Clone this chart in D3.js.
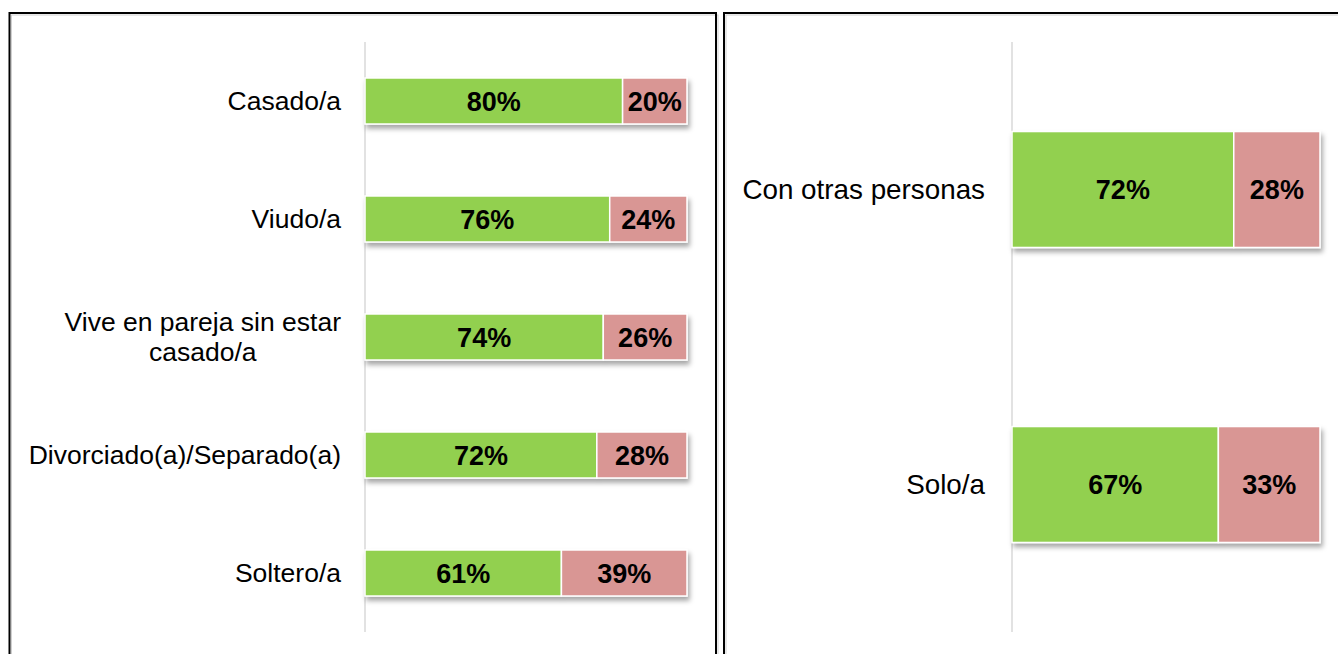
<!DOCTYPE html>
<html>
<head>
<meta charset="utf-8">
<script src="https://cdn.jsdelivr.net/npm/d3@7"></script>
<style>
  body { margin: 0; background: #fff; }
  svg { display: block; font-family: "Liberation Sans", Arial, sans-serif; }
</style>
</head>
<body>
<div id="chart"></div>
<script>
// left panel: estado civil
let leftCategories = ['Casado/a', 'Viudo/a', 'Vive en pareja sin estar casado/a', 'Divorciado(a)/Separado(a)', 'Soltero/a'];
let leftSi = [80, 76, 74, 72, 61];
let leftNo = [20, 24, 26, 28, 39];

// right panel: con quien vive
let rightCategories = ['Con otras personas', 'Solo/a'];
let rightSi = [72, 67];
let rightNo = [28, 33];

let totalWidth = 1338;
let totalHeight = 654;

let svg = d3.select('#chart')
    .append('svg')
    .attr('width', totalWidth)
    .attr('height', totalHeight);

// shadow under the bars
let defs = svg.append('defs');
let filter = defs.append('filter')
    .attr('id', 'barShadow')
    .attr('x', '-10%').attr('y', '-20%')
    .attr('width', '130%').attr('height', '160%');
filter.append('feDropShadow')
    .attr('dx', 2)
    .attr('dy', 4)
    .attr('stdDeviation', 2.5)
    .attr('flood-color', '#000')
    .attr('flood-opacity', 0.35);

// panel borders
let panels = [
    {x: 9.5, y: 13, w: 706.5},
    {x: 724, y: 13, w: 640}
];
panels.forEach(function(p) {
    svg.append('rect')
        .attr('x', p.x + 2)
        .attr('y', p.y + 2)
        .attr('width', p.w)
        .attr('height', 700)
        .attr('fill', 'none')
        .attr('stroke', '#d0d0d0')
        .attr('stroke-width', 1);
    svg.append('rect')
        .attr('x', p.x)
        .attr('y', p.y)
        .attr('width', p.w)
        .attr('height', 700)
        .attr('fill', 'none')
        .attr('stroke', '#000')
        .attr('stroke-width', 2);
});

function drawPanel(cfg) {
    let g = svg.append('g');

    let data = cfg.categories.map(function(c, i) {
        return {label: c, si: cfg.si[i], no: cfg.no[i]};
    });

    let xScale = d3.scaleLinear()
        .domain([0, 100])
        .range([cfg.x0, cfg.x1]);

    let yScale = d3.scaleBand()
        .domain(cfg.categories)
        .range([42, 632])
        .paddingInner(cfg.padding)
        .paddingOuter(cfg.padding / 2);

    // vertical axis line
    g.append('line')
        .attr('x1', xScale(0))
        .attr('x2', xScale(0))
        .attr('y1', 42)
        .attr('y2', 632)
        .attr('stroke', '#d9d9d9')
        .attr('stroke-width', 1.5);

    let rows = g.selectAll('.row')
        .data(data)
        .enter()
        .append('g')
        .attr('class', 'row');

    let bars = rows.append('g').attr('filter', 'url(#barShadow)');

    bars.append('rect')
        .attr('x', xScale(0))
        .attr('y', function(d) { return yScale(d.label); })
        .attr('width', function(d) { return xScale(d.si) - xScale(0); })
        .attr('height', yScale.bandwidth())
        .attr('fill', '#92d050')
        .attr('stroke', '#fff')
        .attr('stroke-width', 1.5);

    bars.append('rect')
        .attr('x', function(d) { return xScale(d.si); })
        .attr('y', function(d) { return yScale(d.label); })
        .attr('width', function(d) { return xScale(d.si + d.no) - xScale(d.si); })
        .attr('height', yScale.bandwidth())
        .attr('fill', '#d99694')
        .attr('stroke', '#fff')
        .attr('stroke-width', 1.5);

    // value labels
    rows.append('text')
        .attr('x', function(d) { return (xScale(0) + xScale(d.si)) / 2; })
        .attr('y', function(d) { return yScale(d.label) + yScale.bandwidth() / 2 + 9.7; })
        .attr('text-anchor', 'middle')
        .style('font-size', '27px')
        .style('font-weight', 'bold')
        .style('fill', '#000')
        .text(function(d) { return d.si + '%'; });

    rows.append('text')
        .attr('x', function(d) { return (xScale(d.si) + xScale(d.si + d.no)) / 2; })
        .attr('y', function(d) { return yScale(d.label) + yScale.bandwidth() / 2 + 9.7; })
        .attr('text-anchor', 'middle')
        .style('font-size', '27px')
        .style('font-weight', 'bold')
        .style('fill', '#000')
        .text(function(d) { return d.no + '%'; });

    // category labels, wrapped and centered as a block right of the axis
    let labelRight = xScale(0) - cfg.labelGap;
    rows.each(function(d) {
        let row = d3.select(this);
        let text = row.append('text')
            .attr('text-anchor', 'middle')
            .style('font-size', cfg.fontSize + 'px')
            .style('fill', '#000');
        let words = d.label.split(' ');
        let lines = [];
        let line = [];
        let tmp = text.append('tspan');
        words.forEach(function(w) {
            line.push(w);
            tmp.text(line.join(' '));
            if (tmp.node().getComputedTextLength() > cfg.maxWidth && line.length > 1) {
                line.pop();
                lines.push(line.join(' '));
                line = [w];
            }
        });
        lines.push(line.join(' '));
        let blockWidth = 0;
        lines.forEach(function(l) {
            tmp.text(l);
            blockWidth = Math.max(blockWidth, tmp.node().getComputedTextLength());
        });
        tmp.remove();
        let cx = labelRight - blockWidth / 2;
        let lineHeight = 30;
        let cy = yScale(d.label) + yScale.bandwidth() / 2;
        let firstBase = cy - (lines.length - 1) * lineHeight / 2 + cfg.fontSize * 0.358;
        lines.forEach(function(l, i) {
            text.append('tspan')
                .attr('x', cx)
                .attr('y', firstBase + i * lineHeight)
                .text(l);
        });
    });
}

drawPanel({
    categories: leftCategories, si: leftSi, no: leftNo,
    x0: 365, x1: 687, padding: 0.61,
    labelGap: 24, fontSize: 26.5, maxWidth: 320
});

drawPanel({
    categories: rightCategories, si: rightSi, no: rightNo,
    x0: 1012, x1: 1320, padding: 0.607,
    labelGap: 27, fontSize: 27.8, maxWidth: 260
});
</script>
</body>
</html>
